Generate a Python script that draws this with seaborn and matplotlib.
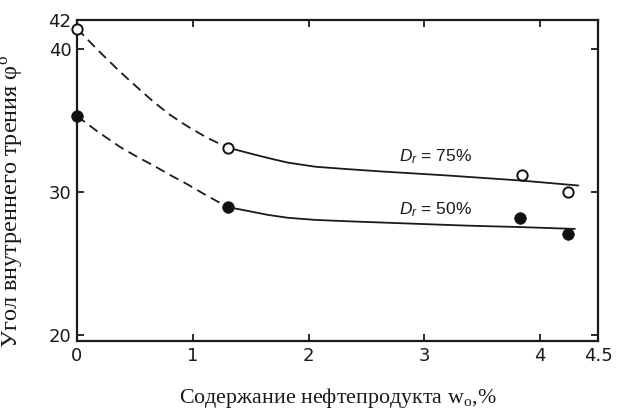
import matplotlib
matplotlib.use("Agg")
import matplotlib.pyplot as plt
import seaborn as sns
import pandas as pd

# Measured friction angle, Dr = 75 % (open) and Dr = 50 % (filled)
x_dense = [0.0, 1.30, 3.84, 4.24]
phi_dense = [41.4, 33.1, 31.2, 30.0]
x_loose = [0.0, 1.30, 3.83, 4.24]
phi_loose = [35.3, 28.95, 28.2, 27.1]

# Trend curves: extrapolated (dashed) and fitted (solid)
dash_x = [0.0, 0.18, 0.37, 0.52, 0.66, 0.80, 0.95, 1.12, 1.30]
dash_dense = [41.4, 39.9, 38.4, 37.3, 36.3, 35.4, 34.6, 33.8, 33.1]
dash_loose = [35.3, 34.2, 33.15, 32.45, 31.85, 31.2, 30.55, 29.75, 28.95]

solid_x_dense = [1.30, 1.48, 1.65, 1.82, 2.06, 2.29, 2.63, 3.20, 3.83, 4.33]
solid_dense = [33.1, 32.72, 32.37, 32.05, 31.76, 31.62, 31.43, 31.15, 30.8, 30.45]
solid_x_loose = [1.30, 1.48, 1.65, 1.82, 2.06, 2.29, 2.62, 3.37, 3.83, 4.30]
solid_loose = [28.95, 28.67, 28.4, 28.2, 28.05, 27.97, 27.87, 27.65, 27.55, 27.42]

x_ticks = [0, 1, 2, 3, 4, 4.5]
x_tick_labels = ["0", "1", "2", "3", "4", "4.5"]
y_ticks = [20, 30, 40, 42]
y_tick_labels = ["20", "30", "40", "42"]

INK = "#1a1a1a"

sns.set_theme(style="ticks")
plt.rcParams["font.family"] = ["DejaVu Sans"]
plt.rcParams["mathtext.fontset"] = "custom"
plt.rcParams["mathtext.rm"] = "Liberation Serif"
plt.rcParams["mathtext.it"] = "Liberation Sans:italic"

fig = plt.figure(figsize=(6.19, 4.16), dpi=100)
ax = fig.add_axes([77 / 619, 1 - 341 / 416, 521 / 619, 321 / 416])

line_kw = dict(color=INK, linewidth=1.3, ax=ax, legend=False)
dash_style = (0, (5.5, 3.2))
dash_df = pd.DataFrame({"x": dash_x, "d": dash_dense, "l": dash_loose})
sns.lineplot(data=dash_df, x="x", y="d", linestyle=dash_style, **line_kw)
sns.lineplot(data=dash_df, x="x", y="l", linestyle=dash_style, **line_kw)
sns.lineplot(x=solid_x_dense, y=solid_dense, **line_kw)
sns.lineplot(x=solid_x_loose, y=solid_loose, **line_kw)

sns.scatterplot(x=x_dense, y=phi_dense, ax=ax, s=55, facecolor="white",
                edgecolor="#111111", linewidth=1.4, zorder=5, clip_on=False)
sns.scatterplot(x=x_loose, y=phi_loose, ax=ax, s=70, color="#111111",
                edgecolor="#111111", linewidth=0.5, zorder=5, clip_on=False)

ax.text(2.78, 32.45, r"$D_r$ = 75%", fontsize=12.5, ha="left", va="center",
        color=INK, family="Liberation Sans")
ax.text(2.78, 28.8, r"$D_r$ = 50%", fontsize=12.5, ha="left", va="center",
        color=INK, family="Liberation Sans")

ax.set_xlim(0, 4.5)
ax.set_ylim(19.6, 42)
ax.set_xticks(x_ticks)
ax.set_xticklabels(x_tick_labels)
ax.set_yticks(y_ticks)
ax.set_yticklabels(y_tick_labels)
ax.tick_params(direction="in", top=True, right=True, length=5, width=1.3,
               labelsize=13, colors=INK, pad=4)
for side in ax.spines.values():
    side.set_linewidth(1.6)
    side.set_color(INK)

ax.set_xlabel("Содержание нефтепродукта w$_\\mathrm{o}$,%",
              family="Liberation Serif", fontsize=15.8, color=INK)
ax.set_ylabel("Угол внутреннего трения φ$^\\mathrm{o}$",
              family="Liberation Serif", fontsize=17.5, color=INK)
ax.xaxis.set_label_coords(0.501, -0.14)
ax.yaxis.set_label_coords(-0.10, 0.436)

fig.savefig("out.png", dpi=100, facecolor="white")
